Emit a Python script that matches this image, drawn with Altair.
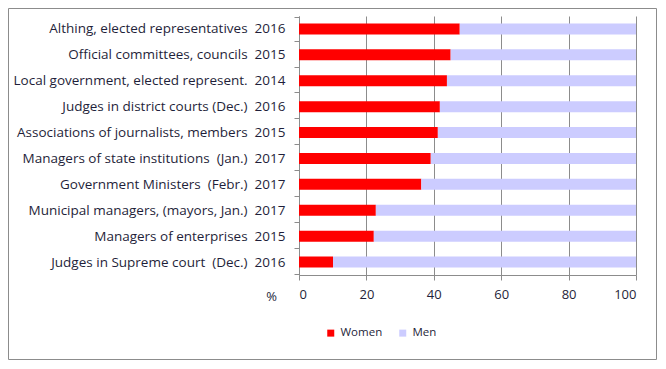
import altair as alt
import pandas as pd

categories = [
    "Althing, elected representatives",
    "Official committees, councils",
    "Local government, elected represent.",
    "Judges in district courts (Dec.)",
    "Associations of journalists, members",
    "Managers of state institutions  (Jan.)",
    "Government Ministers  (Febr.)",
    "Municipal managers, (mayors, Jan.)",
    "Managers of enterprises",
    "Judges in Supreme court  (Dec.)",
]
years = ["2016", "2015", "2014", "2016", "2015", "2017", "2017", "2017", "2015", "2016"]
women = [47.7, 45.0, 43.9, 41.8, 41.2, 39.1, 36.3, 22.8, 22.2, 10.1]
men = [52.3, 55.0, 56.1, 58.2, 58.8, 60.9, 63.7, 77.2, 77.8, 89.9]
x_ticks = [0, 20, 40, 60, 80, 100]

labels = [f"{c}  {y}".replace("  ", "\u00a0\u00a0") for c, y in zip(categories, years)]
rows = []
for lab, w, m in zip(labels, women, men):
    rows.append({"label": lab, "sex": "Women", "value": w, "ord": 0})
    rows.append({"label": lab, "sex": "Men", "value": m, "ord": 1})
df = pd.DataFrame(rows)

TXT = "#1f1f3a"
GRAY = "#8c8c8c"
FONT = "Open Sans"

bars = alt.Chart(df).mark_bar(size=11).encode(
    x=alt.X(
        "value:Q",
        stack="zero",
        scale=alt.Scale(domain=[0, 100], nice=False),
        axis=alt.Axis(
            values=x_ticks,
            grid=True,
            gridColor=GRAY,
            gridWidth=1,
            tickColor=GRAY,
            domainColor=GRAY,
            tickSize=5,
            labelPadding=8,
            labelFontSize=13,
            labelColor=TXT,
            labelFont=FONT,
            title="%",
            titleX=-28,
            titleY=21,
            titleBaseline="middle",
            titleAlign="center",
            titleFontWeight="normal",
            titleFontSize=13,
            titleColor=TXT,
            titleFont=FONT,
        ),
    ),
    y=alt.Y(
        "label:N",
        sort=labels,
        axis=alt.Axis(
            title=None,
            tickBand="extent",
            tickColor=GRAY,
            domainColor=GRAY,
            tickSize=5,
            labelPadding=9,
            labelFontSize=13.5,
            labelColor=TXT,
            labelFont=FONT,
            labelLimit=400,
            grid=False,
        ),
    ),
    color=alt.Color(
        "sex:N",
        scale=alt.Scale(domain=["Women", "Men"], range=["#ff0000", "#ccccff"]),
        legend=alt.Legend(
            orient="none",
            legendX=26,
            legendY=311,
            direction="horizontal",
            title=None,
            symbolType="square",
            symbolSize=49,
            symbolStrokeWidth=0,
            labelFontSize=11.5,
            labelColor=TXT,
            labelFont=FONT,
            columnPadding=14,
            labelOffset=4,
            padding=0,
        ),
    ),
    order=alt.Order("ord:Q"),
)

frame = alt.Chart(pd.DataFrame({"a": [0]})).mark_rect(
    fill="transparent", stroke=GRAY, strokeWidth=1
).encode(
    x=alt.value(-290.5),
    x2=alt.value(357.5),
    y=alt.value(-7.5),
    y2=alt.value(343.5),
)

chart = alt.layer(frame, bars).properties(
    width=337, height=259, padding=0, background="white"
).configure_view(strokeWidth=0)

chart.save("out.html", embed_options={"renderer": "svg", "actions": False})
